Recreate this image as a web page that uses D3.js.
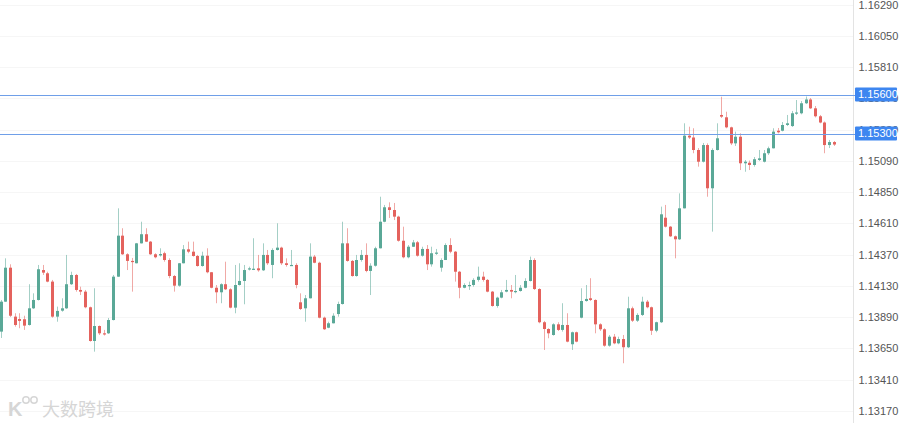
<!DOCTYPE html>
<html><head><meta charset="utf-8">
<script src="https://cdn.jsdelivr.net/npm/d3@7"></script>
<style>body{margin:0;background:#fff}svg{display:block}</style>
</head><body>
<svg id="c" width="900" height="423"></svg>
<script>
const opens=[1.13779,1.14009,1.14270,1.13894,1.13876,1.13874,1.13830,1.13958,1.14022,1.14252,1.14227,1.14163,1.13894,1.13940,1.13958,1.14143,1.14214,1.14099,1.14086,1.13966,1.13707,1.13822,1.13766,1.13766,1.13868,1.14201,1.14516,1.14373,1.14322,1.14304,1.14457,1.14527,1.14470,1.14373,1.14364,1.14381,1.14329,1.14206,1.14132,1.14304,1.14411,1.14393,1.14360,1.14283,1.14362,1.14235,1.14116,1.14081,1.14143,1.14104,1.13963,1.14137,1.14168,1.14258,1.14260,1.14265,1.14250,1.14368,1.14291,1.14406,1.14424,1.14304,1.14288,1.14291,1.14004,1.13958,1.14035,1.14355,1.14308,1.13886,1.13809,1.13843,1.13914,1.13991,1.14457,1.14322,1.14206,1.14329,1.14368,1.14245,1.14285,1.14419,1.14623,1.14734,1.14713,1.14662,1.14477,1.14350,1.14431,1.14465,1.14362,1.14414,1.14296,1.14381,1.14270,1.14329,1.14444,1.14393,1.14239,1.14116,1.14133,1.14137,1.14176,1.14201,1.14176,1.14086,1.13976,1.14040,1.14086,1.14099,1.14083,1.14091,1.14116,1.14168,1.14329,1.14106,1.13851,1.13799,1.13753,1.13835,1.13792,1.13830,1.13682,1.13774,1.13886,1.14014,1.14035,1.14022,1.13835,1.13797,1.13671,1.13740,1.13689,1.13722,1.13659,1.13958,1.13863,1.13907,1.14009,1.13966,1.13786,1.13851,1.14654,1.14585,1.14511,1.14488,1.14726,1.15284,1.15270,1.15174,1.15084,1.15212,1.14880,1.15174,1.15443,1.15425,1.15348,1.15225,1.15276,1.15072,1.15076,1.15059,1.15097,1.15084,1.15149,1.15187,1.15322,1.15322,1.15366,1.15358,1.15454,1.15456,1.15533,1.15562,1.15494,1.15433,1.15385,1.15212,1.15235];
const highs=[1.14022,1.14342,1.14296,1.13920,1.13920,1.13901,1.14143,1.14073,1.14291,1.14291,1.14239,1.14176,1.13971,1.14035,1.14368,1.14239,1.14222,1.14124,1.14099,1.13971,1.14112,1.13826,1.13792,1.13884,1.14214,1.14726,1.14573,1.14381,1.14345,1.14460,1.14623,1.14573,1.14475,1.14381,1.14419,1.14393,1.14342,1.14214,1.14306,1.14444,1.14470,1.14470,1.14368,1.14393,1.14419,1.14237,1.14137,1.14150,1.14316,1.14112,1.14291,1.14304,1.14291,1.14278,1.14496,1.14368,1.14457,1.14406,1.14419,1.14611,1.14431,1.14342,1.14406,1.14304,1.14073,1.14060,1.14457,1.14368,1.14316,1.13894,1.13855,1.13920,1.14009,1.14623,1.14573,1.14329,1.14368,1.14406,1.14457,1.14304,1.14431,1.14815,1.14752,1.14772,1.14767,1.14669,1.14585,1.14444,1.14483,1.14475,1.14431,1.14444,1.14431,1.14414,1.14342,1.14457,1.14496,1.14398,1.14245,1.14150,1.14163,1.14189,1.14278,1.14239,1.14183,1.14091,1.14047,1.14099,1.14176,1.14137,1.14214,1.14137,1.14189,1.14355,1.14342,1.14112,1.13861,1.13805,1.13843,1.13851,1.13997,1.13920,1.13779,1.13779,1.14112,1.14137,1.14189,1.14027,1.13843,1.13805,1.13753,1.13761,1.13740,1.13753,1.14047,1.13971,1.13920,1.14047,1.14022,1.13971,1.13855,1.14739,1.14752,1.14590,1.14517,1.14841,1.15379,1.15353,1.15341,1.15189,1.15228,1.15225,1.15187,1.15379,1.15583,1.15468,1.15353,1.15315,1.15302,1.15097,1.15093,1.15120,1.15174,1.15174,1.15200,1.15341,1.15343,1.15389,1.15443,1.15474,1.15558,1.15550,1.15585,1.15573,1.15512,1.15443,1.15393,1.15251,1.15243];
const lows=[1.13730,1.14007,1.13891,1.13817,1.13805,1.13792,1.13825,1.13953,1.14018,1.14214,1.14158,1.13886,1.13855,1.13932,1.13953,1.14137,1.14086,1.14060,1.13958,1.13702,1.13625,1.13753,1.13749,1.13761,1.13865,1.14199,1.14368,1.14252,1.14086,1.14303,1.14456,1.14467,1.14368,1.14342,1.14355,1.14316,1.14189,1.14086,1.14124,1.14303,1.14381,1.14355,1.14278,1.14278,1.14227,1.14112,1.13997,1.13997,1.14099,1.13958,1.13920,1.14133,1.13989,1.14249,1.14252,1.14239,1.14245,1.14291,1.14189,1.14402,1.14291,1.14278,1.14286,1.14112,1.13945,1.13855,1.14034,1.14304,1.13881,1.13792,1.13805,1.13842,1.13894,1.13987,1.14316,1.14201,1.14201,1.14316,1.14235,1.14060,1.14278,1.14418,1.14619,1.14652,1.14636,1.14470,1.14342,1.14342,1.14429,1.14355,1.14355,1.14252,1.14278,1.14368,1.14239,1.14329,1.14381,1.14163,1.14035,1.14112,1.14099,1.14124,1.14163,1.14163,1.14081,1.13971,1.13963,1.14035,1.14081,1.14035,1.14073,1.14086,1.14112,1.14164,1.14099,1.13843,1.13638,1.13728,1.13748,1.13784,1.13779,1.13697,1.13638,1.13697,1.13881,1.14009,1.14014,1.13766,1.13784,1.13663,1.13663,1.13682,1.13682,1.13536,1.13653,1.13853,1.13853,1.13899,1.13958,1.13753,1.13774,1.13845,1.14579,1.14506,1.14342,1.14483,1.14725,1.15258,1.15149,1.15046,1.15078,1.14815,1.14547,1.15170,1.15420,1.15341,1.15212,1.15205,1.15020,1.15007,1.15020,1.15046,1.15089,1.15078,1.15136,1.15186,1.15302,1.15317,1.15358,1.15351,1.15443,1.15448,1.15527,1.15489,1.15424,1.15379,1.15149,1.15189,1.15205];
const closes=[1.14009,1.14270,1.13901,1.13830,1.13861,1.13825,1.13958,1.14022,1.14258,1.14232,1.14163,1.13894,1.13938,1.13958,1.14143,1.14214,1.14099,1.14086,1.13966,1.13707,1.13822,1.13766,1.13759,1.13868,1.14201,1.14516,1.14373,1.14322,1.14314,1.14457,1.14527,1.14470,1.14373,1.14350,1.14375,1.14329,1.14206,1.14132,1.14304,1.14411,1.14393,1.14360,1.14283,1.14362,1.14235,1.14116,1.14081,1.14143,1.14104,1.13963,1.14137,1.14168,1.14252,1.14265,1.14262,1.14250,1.14368,1.14304,1.14406,1.14424,1.14304,1.14291,1.14291,1.14137,1.13953,1.14035,1.14355,1.14308,1.13886,1.13797,1.13843,1.13901,1.13991,1.14457,1.14322,1.14206,1.14329,1.14368,1.14245,1.14285,1.14419,1.14623,1.14734,1.14713,1.14662,1.14477,1.14350,1.14431,1.14464,1.14362,1.14414,1.14296,1.14381,1.14386,1.14329,1.14444,1.14393,1.14239,1.14116,1.14137,1.14137,1.14176,1.14201,1.14176,1.14086,1.13976,1.14040,1.14081,1.14099,1.14086,1.14091,1.14116,1.14168,1.14329,1.14106,1.13851,1.13799,1.13766,1.13835,1.13792,1.13830,1.13702,1.13774,1.13702,1.14014,1.14030,1.14022,1.13835,1.13797,1.13671,1.13740,1.13689,1.13722,1.13659,1.13958,1.13863,1.13907,1.14009,1.13966,1.13786,1.13851,1.14680,1.14585,1.14511,1.14488,1.14726,1.15284,1.15270,1.15174,1.15084,1.15212,1.14880,1.15174,1.15264,1.15430,1.15348,1.15225,1.15276,1.15072,1.15084,1.15059,1.15103,1.15110,1.15149,1.15187,1.15315,1.15310,1.15366,1.15379,1.15456,1.15462,1.15533,1.15562,1.15494,1.15433,1.15385,1.15212,1.15235,1.15216];
const tickValues=[1.16290,1.16050,1.15810,1.15570,1.15330,1.15090,1.14850,1.14610,1.14370,1.14130,1.13890,1.13650,1.13410,1.13170];
const levelLines=[1.15600,1.15300];
const watermarkText="大数跨境";

const UP="#5aa897", DOWN="#e4625d", LINE="#6f9fe8", TAG="#3d86f0";
const svg=d3.select("#c");
const N=opens.length;
const x=d3.scaleLinear().domain([0,N-1]).range([0.7,833.7]);
const y=d3.scaleLinear().domain([1.13170,1.16290]).range([410.9,4.7]);

// faint grid
const g0=svg.append("g");
g0.selectAll("line.h").data(tickValues).join("line")
  .attr("x1",0).attr("x2",853).attr("y1",d=>Math.round(y(d))+0.5).attr("y2",d=>Math.round(y(d))+0.5)
  .attr("stroke","#f6f6f6");

// axis
const axis=d3.axisRight(y).tickValues(tickValues).tickFormat(d3.format(".5f")).tickSize(0).tickPadding(5);
const ag=svg.append("g").attr("transform","translate(853.5,0)").call(axis);
ag.select(".domain").attr("stroke","#e3e3e3").attr("d","M0,0V423");
ag.selectAll("text").attr("fill","#555").attr("font-size","11px")
  .attr("font-family","'Liberation Sans',Arial,sans-serif");

// candles
const data=opens.map((o,i)=>({i,o,h:highs[i],l:lows[i],c:closes[i]}));
const cg=svg.append("g");
cg.selectAll("line.w").data(data).join("line")
  .attr("x1",d=>Math.round(x(d.i))+0.5).attr("x2",d=>Math.round(x(d.i))+0.5)
  .attr("y1",d=>y(d.h)).attr("y2",d=>y(d.l))
  .attr("stroke",d=>d.c>=d.o?UP:DOWN).attr("stroke-opacity",0.55).attr("stroke-width",1);
cg.selectAll("rect.b").data(data).join("rect")
  .attr("x",d=>Math.round(x(d.i))-1).attr("width",3)
  .attr("y",d=>y(Math.max(d.o,d.c)))
  .attr("height",d=>Math.max(1.2,Math.abs(y(d.o)-y(d.c))))
  .attr("fill",d=>d.c>=d.o?UP:DOWN);

// level lines and tags
const lg=svg.append("g");
lg.selectAll("line").data(levelLines).join("line")
  .attr("x1",0).attr("x2",855).attr("y1",d=>Math.round(y(d))+0.5).attr("y2",d=>Math.round(y(d))+0.5)
  .attr("stroke",LINE).attr("stroke-width",1);
lg.selectAll("rect").data(levelLines).join("rect")
  .attr("x",855).attr("width",42).attr("y",d=>y(d)-7).attr("height",14).attr("rx",1)
  .attr("fill",TAG);
lg.selectAll("text").data(levelLines).join("text")
  .attr("x",858).attr("y",d=>y(d)).attr("dy","0.35em")
  .attr("fill","#fff").attr("font-size","11px").attr("font-family","'Liberation Sans',Arial,sans-serif")
  .text(d=>d3.format(".5f")(d));

// watermark
const wm=svg.append("g").attr("fill","#d6d6d6");
wm.append("text").attr("x",8).attr("y",416).attr("font-size","20px")
  .attr("font-family","'Liberation Sans',Arial,sans-serif").attr("font-weight","bold").text("K");
wm.append("circle").attr("cx",26).attr("cy",400).attr("r",3.2).attr("fill","none").attr("stroke","#d6d6d6").attr("stroke-width",1.5);
wm.append("circle").attr("cx",34).attr("cy",400).attr("r",3.2).attr("fill","none").attr("stroke","#d6d6d6").attr("stroke-width",1.5);
wm.append("text").attr("x",42).attr("y",416).attr("font-size","18px")
  .attr("font-family","'Noto Sans CJK SC',sans-serif").text(watermarkText);
</script>
</body></html>
